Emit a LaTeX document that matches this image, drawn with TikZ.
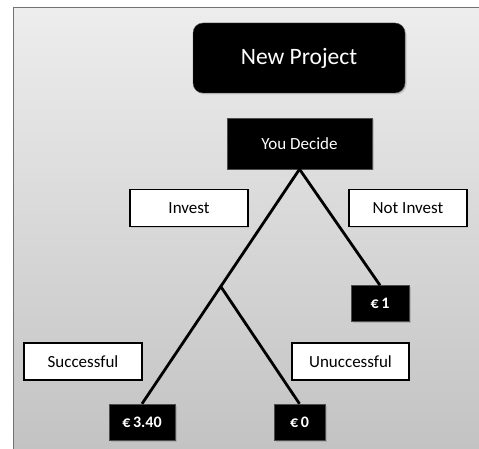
\documentclass[tikz,border=0pt]{standalone}
\usepackage{fontspec}
\setmainfont{Carlito}
\usepackage{tikz}
\usetikzlibrary{calc, shadows}

\begin{document}
\begin{tikzpicture}[x=1pt,y=-1pt,
  dark/.style={draw=black!70,fill=black,text=white,inner sep=0pt,
    drop shadow={opacity=.35,shadow xshift=1.5pt,shadow yshift=-1.5pt}},
  choice/.style={draw=black,line width=1.2pt,fill=white,inner sep=0pt,
    minimum height=37pt,minimum width=118pt,font=\fontsize{17}{20}\selectfont,
    drop shadow={opacity=.25,shadow xshift=1pt,shadow yshift=-1pt}},
  payoff/.style={dark,minimum height=36pt,font=\bfseries\fontsize{16}{19}\selectfont},
  branch/.style={line width=2.8pt}]
  \useasboundingbox (0,0) rectangle (479,449);
  % slide background
  \draw[draw=black!55,line width=1pt,top color=black!7,bottom color=black!24] (13,8) rectangle (490,460);
  \node[dark,rounded corners=10pt,minimum width=212pt,minimum height=70pt,
    font=\fontsize{23.5}{28}\selectfont] (np) at (299,58) {New Project};
  \node[dark,minimum width=145pt,minimum height=51pt,font=\fontsize{17}{20}\selectfont] (yd) at (299.5,143.5) {You Decide};
  \path (189,208) node[choice] (inv) {Invest}
        (408,208) node[choice] (ninv) {Not Invest}
        (83,361.5) node[choice] (succ) {Successful}
        (350.5,361.5) node[choice,minimum width=117pt] (unsucc) {Unuccessful};
  \path (380,303.5) node[payoff,minimum width=58pt] (e1) {€\,1}
        (142,422) node[payoff,minimum width=66pt] (e340) {€\,3.40}
        (299.5,422) node[payoff,minimum width=51pt] (e0) {€\,0};
  \coordinate (fork) at ($(yd.south)!0.5!(e340.north)$);
  \draw[branch] (yd.south) -- (e340.north);
  \draw[branch] (yd.south) -- (e1.north);
  \draw[branch] (fork) -- (e0.north);
\end{tikzpicture}
\end{document}
